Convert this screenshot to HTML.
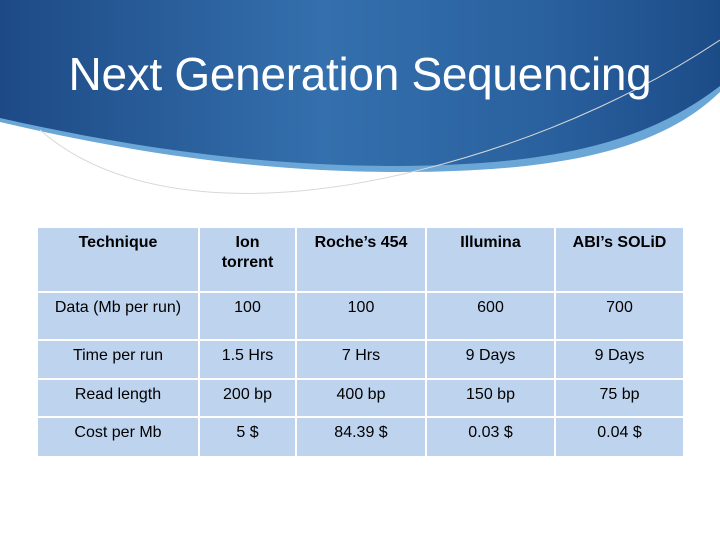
<!DOCTYPE html>
<html><head><meta charset="utf-8"><style>
body{margin:0;width:720px;height:540px;background:#fff;position:relative;overflow:hidden;font-family:"Liberation Sans",Arial,sans-serif}
svg.bg{position:absolute;left:0;top:0}
h1{position:absolute;left:0;width:720px;top:47px;margin:0;text-align:center;color:#fff;font-weight:normal;font-size:46px;letter-spacing:-0.3px}
table{position:absolute;left:36px;top:226px;border-collapse:collapse}
td{background:#bdd3ee;border:2px solid #fff;text-align:center;vertical-align:top;font-size:16px;line-height:20px;color:#000;padding:5px 2px 0 2px;box-sizing:border-box}
tr.h td{font-weight:bold;height:65px}
</style></head><body>
<svg class="bg" width="720" height="540">
<defs><linearGradient id="g" x1="0" y1="0" x2="1" y2="0">
<stop offset="0" stop-color="#1d4a86"/><stop offset="0.45" stop-color="#3470ad"/><stop offset="0.75" stop-color="#2a619f"/><stop offset="1" stop-color="#1c4c88"/></linearGradient></defs>
<path d="M0 0H720V92C660 150 560 172 400 172C250 172 120 150 0 122Z" fill="#6aa6d6"/>
<path d="M0 0H720V86C650 140 560 165 400 166C250 166 120 145 0 118Z" fill="url(#g)"/>
<path d="M40 130C120 200 260 210 420 170C560 135 660 80 720 40" fill="none" stroke="#d8d8d8" stroke-width="1"/>
</svg>
<h1>Next Generation Sequencing</h1>
<table>
<tr class="h"><td style="width:162px">Technique</td><td style="width:97px">Ion<br>torrent</td><td style="width:130px">Roche’s 454</td><td style="width:129px">Illumina</td><td style="width:129px">ABI’s SOLiD</td></tr>
<tr style="height:48px"><td>Data (Mb per run)</td><td>100</td><td>100</td><td>600</td><td>700</td></tr>
<tr style="height:39px"><td>Time per run</td><td>1.5 Hrs</td><td>7 Hrs</td><td>9 Days</td><td>9 Days</td></tr>
<tr style="height:38px"><td>Read length</td><td>200 bp</td><td>400 bp</td><td>150 bp</td><td>75 bp</td></tr>
<tr style="height:40px"><td>Cost per Mb</td><td>5 $</td><td>84.39 $</td><td>0.03 $</td><td>0.04 $</td></tr>
</table>
</body></html>
